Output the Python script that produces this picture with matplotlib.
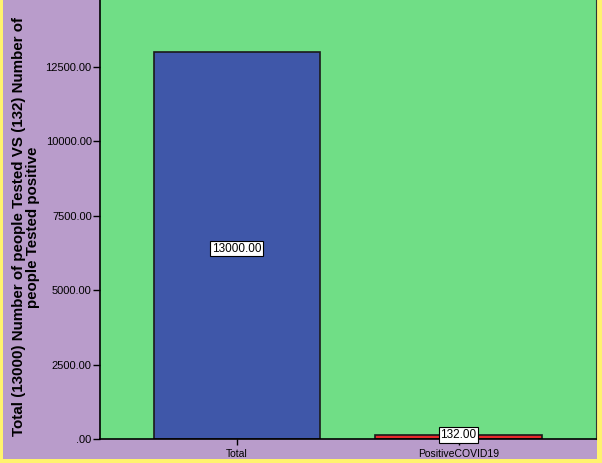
import matplotlib.pyplot as plt
from matplotlib.patches import Rectangle

categories = ['Total', 'PositiveCOVID19']
values = [13000, 132]
bar_colors = ['#3F57A9', '#E8292B']
yticks = [0, 2500, 5000, 7500, 10000, 12500]
ytick_labels = ['.00', '2500.00', '5000.00', '7500.00', '10000.00', '12500.00']
ylabel = 'Total (13000) Number of people Tested VS (132) Number of\npeople Tested positive'

W, H = 602, 463
fig = plt.figure(figsize=(W / 100, H / 100), dpi=100)
fig.patch.set_facecolor('#FFF36E')
# purple panel inside the yellow border
fig.patches.append(Rectangle((3 / W, 4 / H), 594 / W, 459 / H,
                             transform=fig.transFigure, facecolor='#B99CCB',
                             edgecolor='none', zorder=-10))

ax = fig.add_axes([100 / W, (H - 439) / H, 496 / W, 439 / H])
ax.set_facecolor('#70DE86')

x = range(len(categories))
ax.bar(x, values, width=0.75, color=bar_colors, edgecolor='#1a1a1a', linewidth=1.2)
for xi, v in zip(x, values):
    ax.text(xi, v / 2 - 100 if v > 1000 else v, f'{v:.2f}', ha='center', va='center',
            fontsize=8.5, fontfamily='Liberation Sans',
            bbox=dict(boxstyle='square,pad=0.15', facecolor='white', edgecolor='black', linewidth=0.8))

ax.set_xlim(-0.617, 1.62)
ax.set_ylim(0, 14750)
ax.set_xticks(list(x))
ax.set_xticklabels(categories, fontsize=7.5, fontfamily='Liberation Sans')
ax.set_yticks(yticks)
ax.set_yticklabels(ytick_labels, fontsize=8, fontfamily='Liberation Sans')
ax.tick_params(axis='y', length=5, width=1, pad=1)
ax.tick_params(axis='x', length=4, width=1, pad=3)

ax.spines['top'].set_visible(False)
ax.spines['left'].set_linewidth(1.2)
ax.spines['bottom'].set_linewidth(1.2)
ax.spines['right'].set_color('#333333')

ax.set_ylabel(ylabel, fontsize=10.9, fontweight='bold', fontfamily='Liberation Sans',
              linespacing=1.0)
ax.yaxis.set_label_coords(-0.12, 0.483)

fig.savefig('out.png', dpi=100, facecolor=fig.get_facecolor())
